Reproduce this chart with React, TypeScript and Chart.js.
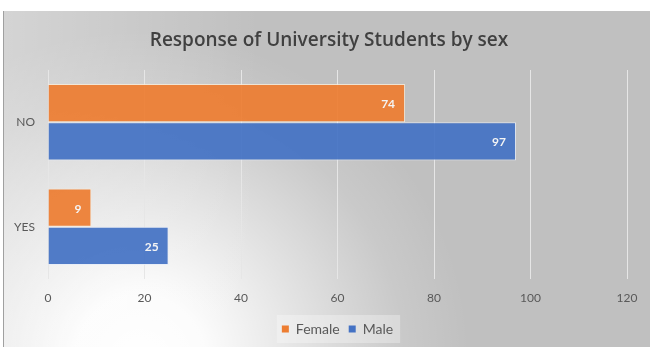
import React, { useEffect, useRef } from "react";
import { Chart, registerables } from "chart.js";

Chart.register(...registerables);

const chartTitle = "Response of University Students by sex";
const categories = ["NO", "YES"];
const seriesNames = ["Female", "Male"];
const femaleValues = [74, 9];
const maleValues = [97, 25];
const xMin = 0;
const xMax = 120;
const xStep = 20;

const FONT = "Lato, 'Open Sans', sans-serif";
const TITLE_FONT = "'Open Sans', Lato, sans-serif";
const ORANGE = "#ED7D31";
const BLUE = "#4472C4";

export default function App() {
  const ref = useRef<HTMLCanvasElement>(null);

  useEffect(() => {
    if (!ref.current) return;

    const bgPlugin = {
      id: "bgPlugin",
      afterLayout(chart: any) {
        if (chart.titleBlock) {
          chart.titleBlock.left = 31;
          chart.titleBlock.right = 627;
        }
      },
      beforeDraw(chart: any) {
        const { ctx, width, height } = chart;
        ctx.save();
        ctx.fillStyle = "#ffffff";
        ctx.fillRect(0, 0, width, height);
        ctx.fillStyle = "#c0c0c0";
        ctx.fillRect(3, 11, width - 3, height - 11);
        const g = ctx.createRadialGradient(140, 360, 0, 140, 360, 330);
        g.addColorStop(0, "rgba(255,255,255,1)");
        g.addColorStop(0.2, "rgba(255,255,255,0.95)");
        g.addColorStop(0.5, "rgba(255,255,255,0.55)");
        g.addColorStop(0.8, "rgba(255,255,255,0.15)");
        g.addColorStop(1, "rgba(255,255,255,0)");
        ctx.fillStyle = g;
        ctx.fillRect(3, 11, width - 3, height - 11);
        const lg = ctx.createLinearGradient(3, 0, 260, 0);
        lg.addColorStop(0, "rgba(255,255,255,0.32)");
        lg.addColorStop(1, "rgba(255,255,255,0)");
        ctx.fillStyle = lg;
        ctx.fillRect(3, 11, 257, height - 11);
        ctx.strokeStyle = "#a0a0a0";
        ctx.lineWidth = 1;
        ctx.beginPath();
        ctx.moveTo(3.5, 11);
        ctx.lineTo(3.5, height);
        ctx.stroke();
        // legend background box
        const hb = chart.legend && chart.legend.legendHitBoxes;
        if (hb && hb.length) {
          const first = hb[0];
          const last = hb[hb.length - 1];
          const l = first.left - 5;
          const r = last.left + last.width + 7;
          const t = first.top - 7;
          const b = first.top + first.height + 7;
          ctx.fillStyle = "rgba(255,255,255,0.3)";
          ctx.fillRect(l, t, r - l, b - t);
        }
        ctx.restore();
      },
    };

    const valueLabels = {
      id: "valueLabels",
      afterDatasetsDraw(chart: any) {
        const { ctx } = chart;
        ctx.save();
        ctx.font = `bold 12px ${FONT}`;
        ctx.fillStyle = "#f4f4f4";
        ctx.textAlign = "right";
        ctx.textBaseline = "middle";
        chart.data.datasets.forEach((ds: any, di: number) => {
          const meta = chart.getDatasetMeta(di);
          meta.data.forEach((bar: any, i: number) => {
            ctx.fillText(String(ds.data[i]), bar.x - 10, bar.y + 1);
          });
        });
        ctx.restore();
      },
    };

    const chart = new Chart(ref.current, {
      type: "bar",
      data: {
        labels: categories,
        datasets: [
          {
            label: seriesNames[0],
            data: femaleValues,
            backgroundColor: "rgba(237,125,49,0.93)",
            borderColor: "rgba(250,235,215,0.8)",
            borderWidth: 1,
          },
          {
            label: seriesNames[1],
            data: maleValues,
            backgroundColor: "rgba(68,114,196,0.93)",
            borderColor: "rgba(230,236,248,0.8)",
            borderWidth: 1,
          },
        ],
      },
      options: {
        indexAxis: "y",
        responsive: false,
        animation: false,
        devicePixelRatio: 1,
        layout: { padding: { left: 0, right: 23, top: 0, bottom: 1 } },
        datasets: {
          bar: { barPercentage: 1, categoryPercentage: 0.73 },
        },
        scales: {
          x: {
            min: xMin,
            max: xMax,
            ticks: {
              stepSize: xStep,
              color: "#595959",
              font: { family: FONT, size: 12 },
              padding: 12,
            },
            grid: { color: "#e6e6e6", lineWidth: 1, drawTicks: false },
            border: { display: false },
            afterFit(scale: any) {
              scale.height = 34;
            },
          },
          y: {
            ticks: {
              color: "#595959",
              font: { family: FONT, size: 12 },
              padding: 13,
            },
            grid: { display: false, drawTicks: false },
            border: { display: false },
            afterFit(scale: any) {
              scale.width = 48;
            },
          },
        },
        plugins: {
          title: {
            display: true,
            text: chartTitle,
            color: "#404040",
            font: { family: TITLE_FONT, size: 19, weight: "600" },
            padding: { top: 29.6, bottom: 17.6 },
          },
          legend: {
            position: "bottom",
            fullSize: false,
            labels: {
              color: "#595959",
              font: { family: FONT, size: 14 },
              boxWidth: 7,
              boxHeight: 7,
              padding: 9,
              generateLabels(c: any) {
                const items = Chart.defaults.plugins.legend.labels.generateLabels(c);
                const cols = [ORANGE, BLUE];
                return items.map((it: any, i: number) => ({
                  ...it,
                  fillStyle: cols[i],
                  strokeStyle: cols[i],
                  lineWidth: 0,
                }));
              },
            },
          },
          tooltip: { enabled: false },
        },
      },
      plugins: [bgPlugin, valueLabels],
    } as any);

    return () => chart.destroy();
  }, []);

  return (
    <div style={{ position: "fixed", left: 0, top: 0, width: 650, height: 347 }}>
      <canvas ref={ref} width={650} height={347} style={{ display: "block", width: 650, height: 347 }} />
    </div>
  );
}
